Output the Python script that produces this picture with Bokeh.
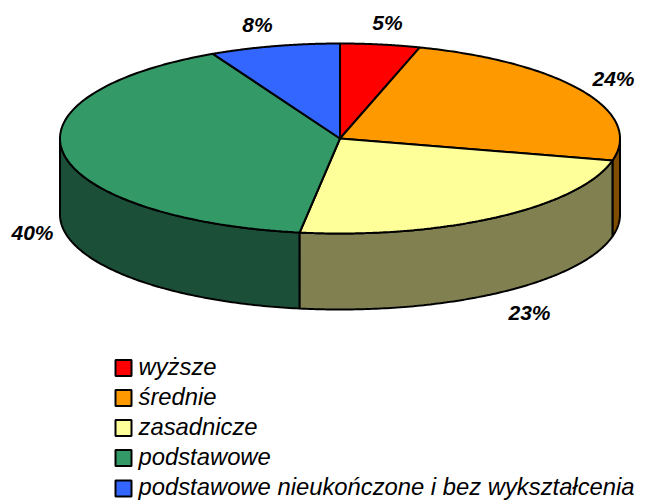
import numpy as np
from bokeh.plotting import figure
from bokeh.embed import file_html
from bokeh.resources import INLINE
from bokeh.core.properties import value

categories = ["wyższe", "średnie", "zasadnicze", "podstawowe", "podstawowe nieukończone i bez wykształcenia"]
values = [4.6, 24.1, 23.6, 40.2, 7.5]
labels = ["5%", "24%", "23%", "40%", "8%"]
colors = ["#FF0000", "#FF9900", "#FFFF99", "#339966", "#3366FF"]
side_colors = ["#800000", "#804C00", "#808050", "#1C4F38", "#1A3380"]

W, H = 650, 500
cx, cy, rx, ry, depth = 339.5, 362, 280, 95, 76

p = figure(width=W, height=H, x_range=(0, W), y_range=(0, H), output_backend="svg",
           toolbar_location=None, min_border=0, outline_line_color=None, background_fill_color="white")
p.axis.visible = False
p.grid.visible = False

fr = np.cumsum([0] + values) / sum(values)
edges = 2 * np.pi * fr   # clockwise from 12 o'clock

def pt(a, dy=0.0):
    a = np.asarray(a)
    return cx + rx * np.sin(a), cy + ry * np.cos(a) - dy

# extruded side walls (only the front half)
for i in [1, 4, 3, 2, 0]:
    lo, hi = max(edges[i], np.pi / 2), min(edges[i + 1], 3 * np.pi / 2)
    if hi <= lo:
        continue
    t = np.linspace(lo, hi, 120)
    x1, y1 = pt(t)
    x2, y2 = pt(t[::-1], depth)
    p.patch(np.r_[x1, x2], np.r_[y1, y2], fill_color=side_colors[i], line_color="black", line_width=2)

# top faces
for i in range(len(values)):
    t = np.linspace(edges[i], edges[i + 1], 120)
    x, y = pt(t)
    p.patch(np.r_[cx, x], np.r_[cy, y], fill_color=colors[i], line_color="black", line_width=2)

# percentage labels, placed around the pie
lab_x = [387, 613, 529, 32, 257]
lab_y = [H - 22, H - 78, H - 312, H - 232, H - 24]
p.text(lab_x, lab_y, text=labels, text_font=value("Liberation Sans"), text_font_size="21px",
       text_font_style="bold italic", text_align="center", text_baseline="middle", text_color="black")

# legend
leg_y = [H - 367.5, H - 397.5, H - 427.5, H - 457.5, H - 488]
p.rect([123] * 5, leg_y, width=16, height=16, fill_color=colors, line_color="black", line_width=2)
p.text([138] * 5, [y + 2 for y in leg_y], text=categories, text_font=value("Liberation Sans"), text_font_size="23.8px",
       text_font_style="italic", text_align="left", text_baseline="middle", text_color="black")

open("out.html", "w").write(file_html(p, INLINE))
